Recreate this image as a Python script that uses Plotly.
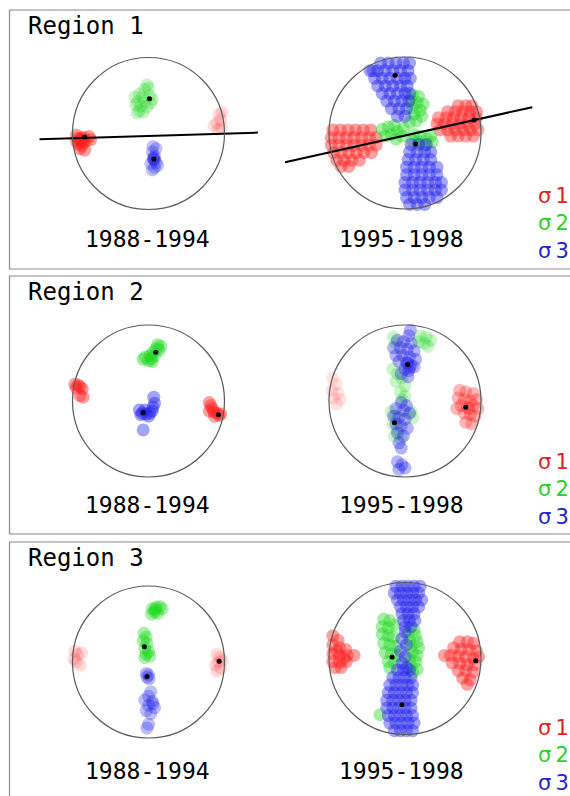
import plotly.graph_objects as go

# ---------------- data (unit stereonet coordinates: x east, y north) ----------------
REGIONS = ["Region 1", "Region 2", "Region 3"]
PERIODS = ["1988-1994", "1995-1998"]
SIGMA_LABELS = ["σ\u20091", "σ\u20092", "σ\u20093"]

# Region 1, 1988-1994
r1a_s1 = [(-0.93, -0.06), (-0.9, -0.1), (-0.95, -0.1), (-0.88, -0.06), (-0.85, -0.05), (-0.92, -0.14),
          (-0.86, -0.12), (-0.78, -0.04), (-0.82, -0.1), (-0.9, -0.2), (-0.84, -0.22), (-0.95, -0.02),
          (-0.88, -0.16), (-0.76, -0.08), (-0.9, -0.08), (-0.87, -0.1)]
r1a_s1b = [(0.93, 0.25), (0.95, 0.18), (0.9, 0.14), (0.96, 0.08), (0.86, 0.1), (0.92, 0.05), (0.97, 0.28)]
r1a_s2 = [(-0.02, 0.64), (0.0, 0.6), (-0.05, 0.58), (-0.12, 0.52), (-0.18, 0.48), (-0.08, 0.48), (0.02, 0.5),
          (0.05, 0.45), (-0.14, 0.42), (-0.05, 0.42), (0.03, 0.4), (-0.17, 0.38), (-0.1, 0.36), (-0.02, 0.35),
          (-0.12, 0.3), (-0.07, 0.28), (-0.15, 0.27)]
r1a_s3 = [(0.06, -0.17), (0.1, -0.2), (0.05, -0.24), (0.08, -0.3), (0.07, -0.34), (0.08, -0.35), (0.06, -0.33),
          (0.1, -0.38), (0.03, -0.4), (0.08, -0.45), (0.12, -0.42), (0.05, -0.48), (0.07, -0.32)]
r1a_mean = [(-0.84, -0.046), (0.013, 0.456), (0.07, -0.336)]
r1a_plane = [(-1.434, -0.076), (1.439, 0.012)]

# Region 1, 1995-1998
r1b_s1 = [(-0.95, 0.04), (-0.85, 0.04), (-0.75, 0.04), (-0.65, 0.04), (-0.55, 0.04), (-0.45, 0.04),
          (-0.97, -0.06), (-0.87, -0.06), (-0.77, -0.06), (-0.67, -0.06), (-0.57, -0.06), (-0.47, -0.06), (-0.38, -0.06),
          (-0.97, -0.16), (-0.87, -0.16), (-0.77, -0.16), (-0.67, -0.16), (-0.57, -0.16), (-0.47, -0.16), (-0.38, -0.16),
          (-0.94, -0.26), (-0.84, -0.26), (-0.74, -0.26), (-0.64, -0.26), (-0.54, -0.26), (-0.44, -0.26),
          (-0.9, -0.36), (-0.8, -0.36), (-0.7, -0.36), (-0.6, -0.36), (-0.84, -0.44), (-0.74, -0.44),
          (0.7, 0.36), (0.8, 0.36), (0.88, 0.36),
          (0.56, 0.28), (0.66, 0.28), (0.76, 0.28), (0.86, 0.28), (0.94, 0.28),
          (0.44, 0.2), (0.54, 0.2), (0.64, 0.2), (0.74, 0.2), (0.84, 0.2), (0.94, 0.2),
          (0.42, 0.12), (0.52, 0.12), (0.62, 0.12), (0.72, 0.12), (0.82, 0.12), (0.92, 0.12),
          (0.46, 0.04), (0.56, 0.04), (0.66, 0.04), (0.76, 0.04), (0.86, 0.04), (0.96, 0.04),
          (0.6, -0.04), (0.7, -0.04), (0.8, -0.04), (0.9, -0.04)]
r1b_s2 = [(0.1, 0.5), (0.18, 0.48), (0.08, 0.42), (0.16, 0.4), (0.24, 0.38), (0.1, 0.33), (0.2, 0.3),
          (0.12, 0.25), (0.22, 0.22), (0.15, 0.16), (0.06, 0.14),
          (-0.3, 0.05), (-0.22, 0.08), (-0.14, 0.1), (-0.26, -0.04), (-0.18, -0.02), (-0.1, 0.02),
          (-0.02, 0.06), (-0.12, -0.08), (-0.04, -0.04),
          (0.12, -0.02), (0.2, -0.04), (0.28, -0.08), (0.36, -0.12), (0.18, -0.12), (0.26, -0.16),
          (0.34, -0.04), (0.1, -0.1)]
r1b_s3 = [(-0.42, 0.82), (-0.32, 0.92), (-0.22, 0.92), (-0.12, 0.92), (-0.02, 0.92), (0.06, 0.92),
          (-0.46, 0.82), (-0.36, 0.82), (-0.26, 0.82), (-0.16, 0.82), (-0.06, 0.82), (0.04, 0.82),
          (-0.4, 0.72), (-0.3, 0.72), (-0.2, 0.72), (-0.1, 0.72), (0.0, 0.72), (0.07, 0.72),
          (-0.36, 0.62), (-0.26, 0.62), (-0.16, 0.62), (-0.06, 0.62), (0.03, 0.62),
          (-0.3, 0.52), (-0.2, 0.52), (-0.1, 0.52), (0.0, 0.52), (0.06, 0.52),
          (-0.24, 0.42), (-0.14, 0.42), (-0.04, 0.42), (0.05, 0.42),
          (-0.18, 0.32), (-0.08, 0.32), (0.02, 0.32), (-0.1, 0.22), (0.0, 0.22),
          (0.08, -0.15), (0.18, -0.15), (0.28, -0.15),
          (0.06, -0.25), (0.16, -0.25), (0.26, -0.25), (0.34, -0.25),
          (0.04, -0.35), (0.14, -0.35), (0.24, -0.35), (0.34, -0.35),
          (0.02, -0.45), (0.12, -0.45), (0.22, -0.45), (0.32, -0.45), (0.42, -0.45),
          (0.02, -0.55), (0.12, -0.55), (0.22, -0.55), (0.32, -0.55), (0.42, -0.55),
          (0.0, -0.65), (0.1, -0.65), (0.2, -0.65), (0.3, -0.65), (0.4, -0.65), (0.48, -0.65),
          (0.0, -0.75), (0.1, -0.75), (0.2, -0.75), (0.3, -0.75), (0.4, -0.75), (0.48, -0.75),
          (0.02, -0.85), (0.12, -0.85), (0.22, -0.85), (0.32, -0.85), (0.42, -0.85),
          (0.06, -0.94), (0.16, -0.94), (0.26, -0.94)]
r1b_mean = [(0.91, 0.17), (0.14, -0.145), (-0.13, 0.76)]
r1b_plane = [(-1.579, -0.384), (1.675, 0.34)]

# Region 2, 1988-1994
r2a_s1 = [(-0.97, 0.22), (-0.93, 0.21), (-0.9, 0.19), (-0.87, 0.16), (-0.95, 0.17), (-0.86, 0.05), (-0.9, 0.07),
          (0.8, -0.02), (0.82, -0.06), (0.84, -0.1), (0.86, -0.14), (0.9, -0.16), (0.93, -0.19), (0.8, -0.13),
          (0.87, -0.2), (0.95, -0.17)]
r2a_s2 = [(0.12, 0.74), (0.16, 0.72), (0.1, 0.69), (0.14, 0.67), (0.06, 0.64), (0.02, 0.6), (-0.04, 0.58),
          (0.04, 0.56), (-0.07, 0.55), (0.0, 0.53), (0.08, 0.6), (0.05, 0.52)]
r2a_s3 = [(-0.12, -0.12), (-0.08, -0.16), (-0.03, -0.17), (0.02, -0.16), (0.05, -0.13), (0.06, -0.08),
          (-0.1, -0.18), (-0.05, -0.12), (0.0, -0.2), (0.08, -0.03), (0.07, 0.05), (-0.07, -0.38)]
r2a_mean = [(0.92, -0.18), (0.095, 0.64), (-0.07, -0.15)]

# Region 2, 1995-1998
r2b_s1 = [(-0.95, 0.3), (-0.9, 0.22), (-0.96, 0.14), (-0.88, 0.1), (-0.94, 0.04), (-0.9, -0.04), (-0.85, 0.02)]
r2b_s1b = [(0.72, 0.14), (0.8, 0.12), (0.9, 0.1), (0.7, 0.04), (0.78, 0.02), (0.86, 0.0), (0.94, 0.02),
           (0.74, -0.06), (0.82, -0.08), (0.9, -0.06), (0.96, -0.1), (0.78, -0.16), (0.86, -0.18),
           (0.92, -0.2), (0.8, -0.28), (0.88, -0.3), (0.68, -0.1), (0.84, -0.1)]
r2b_s2 = [(0.2, 0.86), (0.28, 0.84), (0.34, 0.8), (0.25, 0.76), (0.3, 0.72), (0.18, 0.78),
          (-0.15, 0.84), (-0.12, 0.76), (-0.16, 0.42), (-0.1, 0.36), (-0.04, 0.3), (-0.12, 0.26), (0.0, 0.2),
          (-0.06, 0.12), (0.0, 0.06), (-0.04, 0.02), (-0.18, -0.14), (-0.12, -0.2), (0.08, -0.14), (0.1, -0.22),
          (-0.16, -0.3), (-0.1, -0.38), (-0.14, -0.46), (-0.05, -0.5)]
r2b_s3 = [(0.07, 0.93), (0.05, 0.86), (-0.1, 0.8), (-0.02, 0.78), (0.08, 0.76), (-0.15, 0.7), (-0.06, 0.7),
          (0.03, 0.68), (0.12, 0.66), (-0.12, 0.6), (-0.03, 0.6), (0.06, 0.58), (0.14, 0.55), (-0.08, 0.52),
          (0.02, 0.5), (0.08, 0.47), (0.12, 0.45), (0.0, 0.42), (0.05, 0.4), (-0.05, 0.36), (0.04, 0.32),
          (0.03, 0.5), (0.06, 0.44),
          (-0.05, -0.02), (0.02, -0.06), (-0.12, -0.1), (-0.02, -0.12), (0.06, -0.16), (-0.15, -0.2),
          (-0.08, -0.22), (0.0, -0.24), (-0.12, -0.3), (-0.05, -0.33), (0.03, -0.36), (-0.1, -0.42),
          (-0.02, -0.46), (-0.08, -0.55), (-0.05, -0.62), (-0.1, -0.8), (-0.04, -0.84), (-0.08, -0.9), (0.0, -0.88)]
r2b_mean = [(0.80, -0.083), (-0.14, -0.285), (0.035, 0.48)]

# Region 3, 1988-1994
r3a_s1 = [(-0.97, 0.14), (-0.93, 0.1), (-0.98, 0.04), (-0.95, 0.0), (-0.9, -0.04), (-0.88, 0.12),
          (0.9, 0.1), (0.94, 0.06), (0.97, 0.02), (0.92, 0.0), (0.88, -0.04), (0.95, -0.08), (0.9, -0.12)]
r3a_s2 = [(0.05, 0.7), (0.1, 0.72), (0.15, 0.73), (0.08, 0.66), (0.12, 0.64), (0.04, 0.63), (0.18, 0.7),
          (0.09, 0.69), (-0.06, 0.38), (-0.03, 0.33), (-0.07, 0.28), (-0.02, 0.24), (-0.05, 0.18), (0.0, 0.14),
          (-0.03, 0.1), (0.02, 0.08), (-0.05, 0.06)]
r3a_s3 = [(-0.03, -0.15), (0.0, -0.17), (-0.02, -0.2), (0.01, -0.22), (0.03, -0.39), (0.0, -0.45),
          (-0.05, -0.5), (0.05, -0.52), (0.0, -0.57), (0.08, -0.6), (-0.03, -0.64), (0.03, -0.68),
          (0.0, -0.82), (0.06, -0.55), (-0.02, -0.87)]
r3a_mean = [(0.93, 0.01), (-0.055, 0.2), (-0.02, -0.19)]

# Region 3, 1995-1998
r3b_s1 = [(-0.95, 0.3), (-0.88, 0.24), (-0.95, 0.18), (-0.86, 0.14), (-0.78, 0.12), (-0.95, 0.06), (-0.86, 0.04),
          (-0.76, 0.04), (-0.67, 0.04), (-0.95, -0.04), (-0.86, -0.05), (-0.77, -0.04), (-0.92, -0.12),
          (-0.84, -0.12), (-0.9, 0.1), (-0.8, 0.0),
          (0.72, 0.22), (0.82, 0.22), (0.9, 0.2), (0.64, 0.14), (0.74, 0.12), (0.84, 0.12), (0.94, 0.1),
          (0.52, 0.04), (0.6, 0.04), (0.7, 0.03), (0.8, 0.02), (0.9, 0.0), (0.97, 0.02), (0.62, -0.06),
          (0.72, -0.06), (0.82, -0.08), (0.92, -0.08), (0.7, -0.16), (0.8, -0.16), (0.9, -0.18),
          (0.76, -0.26), (0.86, -0.28), (0.82, -0.34)]
r3b_s2 = [(-0.28, 0.52), (-0.2, 0.5), (-0.3, 0.42), (-0.22, 0.4), (-0.14, 0.44), (-0.3, 0.32), (-0.22, 0.3),
          (-0.15, 0.28), (-0.28, 0.2), (-0.2, 0.18), (-0.12, 0.16), (-0.26, 0.08), (-0.18, 0.06), (-0.1, 0.04),
          (-0.22, -0.04), (-0.14, -0.06), (-0.2, -0.12), (-0.33, -0.74),
          (0.12, 0.38), (0.04, 0.34), (0.14, 0.3), (0.06, 0.24), (0.16, 0.22), (0.08, 0.16), (0.18, 0.14),
          (0.1, 0.08), (0.16, 0.04), (0.06, 0.0), (0.14, -0.04), (0.08, -0.1), (0.16, -0.14), (0.1, -0.18)]
r3b_s3 = [(-0.12, 0.95), (-0.04, 0.95), (0.04, 0.95), (0.12, 0.95), (0.2, 0.95),
          (-0.14, 0.86), (-0.06, 0.86), (0.02, 0.86), (0.1, 0.86), (0.18, 0.86),
          (-0.1, 0.77), (-0.02, 0.77), (0.06, 0.77), (0.14, 0.77), (0.22, 0.77),
          (-0.06, 0.68), (0.02, 0.68), (0.1, 0.68), (0.18, 0.68),
          (-0.04, 0.59), (0.04, 0.59), (0.12, 0.59), (-0.02, 0.5), (0.06, 0.5), (0.13, 0.5),
          (0.0, 0.42), (0.08, 0.42), (0.0, 0.35), (-0.04, 0.26), (0.02, 0.18), (-0.06, 0.1), (0.0, 0.02),
          (-0.04, -0.06), (0.02, -0.12),
          (-0.1, -0.15), (-0.02, -0.15), (0.06, -0.15),
          (-0.16, -0.25), (-0.08, -0.25), (0.0, -0.25), (0.08, -0.25),
          (-0.2, -0.35), (-0.12, -0.35), (-0.04, -0.35), (0.04, -0.35), (0.1, -0.35),
          (-0.22, -0.45), (-0.14, -0.45), (-0.06, -0.45), (0.02, -0.45), (0.1, -0.45),
          (-0.24, -0.55), (-0.16, -0.55), (-0.08, -0.55), (0.0, -0.55), (0.08, -0.55),
          (-0.24, -0.65), (-0.16, -0.65), (-0.08, -0.65), (0.0, -0.65), (0.08, -0.65),
          (-0.22, -0.75), (-0.14, -0.75), (-0.06, -0.75), (0.02, -0.75), (0.1, -0.75),
          (-0.2, -0.85), (-0.12, -0.85), (-0.04, -0.85), (0.04, -0.85), (0.12, -0.85),
          (-0.14, -0.95), (-0.06, -0.95), (0.02, -0.95), (0.1, -0.95)]
r3b_mean = [(0.93, -0.03), (-0.17, 0.02), (-0.04, -0.61)]

# ---------------- styling / layout ----------------
W, H = 570, 796
R_PX = 76.0          # stereonet radius in px
SPAN = 1.75          # axis half-range in unit radii
RED, GREEN, BLUE = "rgb(255,30,30)", "rgb(30,215,30)", "rgb(35,35,235)"
LEG_COLORS = ["rgb(228,30,30)", "rgb(40,210,40)", "rgb(35,35,205)"]
PANEL_TOP = [10, 276, 542]
PANEL_BOTTOM = [269, 534, 830]
NET_CX = [148.5, 405.0]
NET_CY = [[133.5, 133.0], [401.0, 401.0], [662.0, 658.5]]
MSIZE = 13

# (row, col, [(points, color, opacity)], means, plane)
nets = [
    (0, 0, [(r1a_s1, RED, 0.42), (r1a_s1b, RED, 0.14), (r1a_s2, GREEN, 0.24), (r1a_s3, BLUE, 0.28)], r1a_mean, r1a_plane),
    (0, 1, [(r1b_s1, RED, 0.42), (r1b_s2, GREEN, 0.4), (r1b_s3, BLUE, 0.42)], r1b_mean, r1b_plane),
    (1, 0, [(r2a_s1, RED, 0.42), (r2a_s2, GREEN, 0.42), (r2a_s3, BLUE, 0.42)], r2a_mean, None),
    (1, 1, [(r2b_s1, RED, 0.12), (r2b_s1b, RED, 0.32), (r2b_s2, GREEN, 0.24), (r2b_s3, BLUE, 0.34)], r2b_mean, None),
    (2, 0, [(r3a_s1, RED, 0.16), (r3a_s2, GREEN, 0.38), (r3a_s3, BLUE, 0.3)], r3a_mean, None),
    (2, 1, [(r3b_s1, RED, 0.42), (r3b_s2, GREEN, 0.4), (r3b_s3, BLUE, 0.42)], r3b_mean, None),
]

fig = go.Figure()
shapes, annotations = [], []
layout_axes = {}

for i, (row, col, clouds, means, plane) in enumerate(nets, start=1):
    cx, cy = NET_CX[col], NET_CY[row][col]
    half = SPAN * R_PX
    xd = [(cx - half) / W, (cx + half) / W]
    yd = [1 - (cy + half) / H, 1 - (cy - half) / H]
    ax_common = dict(range=[-SPAN, SPAN], visible=False, showgrid=False, zeroline=False, fixedrange=True)
    layout_axes[f"xaxis{i}"] = dict(domain=xd, anchor=f"y{i}", **ax_common)
    layout_axes[f"yaxis{i}"] = dict(domain=yd, anchor=f"x{i}", **ax_common)
    xa, ya = f"x{i}", f"y{i}"
    for pts, color, op in clouds:
        fig.add_trace(go.Scatter(
            x=[p[0] for p in pts], y=[p[1] for p in pts], mode="markers", xaxis=xa, yaxis=ya,
            marker=dict(size=MSIZE, color=color, opacity=op, line=dict(width=0)),
            hoverinfo="skip", cliponaxis=False))
    if plane is not None:
        fig.add_trace(go.Scatter(
            x=[p[0] for p in plane], y=[p[1] for p in plane], mode="lines", xaxis=xa, yaxis=ya,
            line=dict(color="black", width=2), hoverinfo="skip"))
    fig.add_trace(go.Scatter(
        x=[p[0] for p in means], y=[p[1] for p in means], mode="markers", xaxis=xa, yaxis=ya,
        marker=dict(size=5, color="black", line=dict(width=0)), hoverinfo="skip", cliponaxis=False))
    shapes.append(dict(type="circle", xref=xa, yref=ya, x0=-1, y0=-1, x1=1, y1=1,
                       line=dict(color="rgb(90,90,90)", width=1.2), layer="above"))

legend_text = "<br>".join(f"<span style='color:{c}'>{t}</span>" for t, c in zip(SIGMA_LABELS, LEG_COLORS))

for r in range(3):
    top, bot = PANEL_TOP[r], PANEL_BOTTOM[r]
    shapes.append(dict(type="rect", xref="paper", yref="paper",
                       x0=9.5 / W, x1=1.05, y0=1 - bot / H, y1=1 - top / H,
                       line=dict(color="rgb(140,140,140)", width=1.2), layer="below"))
    annotations.append(dict(text=REGIONS[r], xref="paper", yref="paper", x=26 / W, y=1 - (top + 16) / H,
                            xanchor="left", yanchor="middle", showarrow=False,
                            font=dict(family="DejaVu Sans Mono", size=24, color="black")))
    for c in range(2):
        annotations.append(dict(text=PERIODS[c], xref="paper", yref="paper",
                                x=[147, 401][c] / W, y=1 - (top + 229) / H,
                                xanchor="center", yanchor="middle", showarrow=False,
                                font=dict(family="DejaVu Sans Mono", size=23, color="black")))
    annotations.append(dict(text=legend_text, xref="paper", yref="paper",
                            x=536 / W, y=1 - (top + 213) / H, align="left",
                            xanchor="left", yanchor="middle", showarrow=False,
                            font=dict(family="DejaVu Sans", size=21, color="black")))

fig.update_layout(width=W, height=H, margin=dict(l=0, r=0, t=0, b=0),
                  paper_bgcolor="white", plot_bgcolor="rgba(0,0,0,0)", showlegend=False,
                  shapes=shapes, annotations=annotations, **layout_axes)
fig.write_html("out.html", config={"displayModeBar": False, "staticPlot": True},
               post_script="document.body.style.margin='0';document.body.style.overflow='hidden';")
